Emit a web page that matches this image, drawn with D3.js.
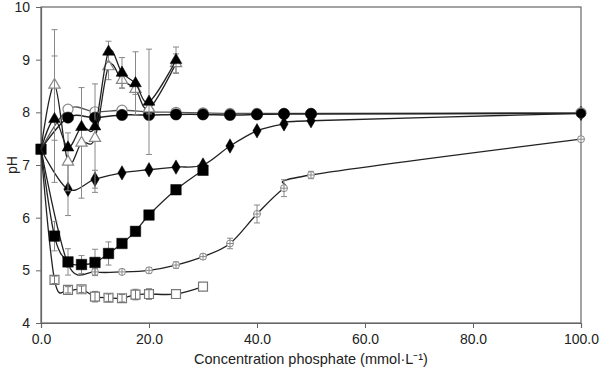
<!DOCTYPE html>
<html><head><meta charset="utf-8">
<script src="https://cdn.jsdelivr.net/npm/d3@7"></script>
<style>body{margin:0;background:#fff}svg{display:block}text{font-family:"Liberation Sans",Arial,sans-serif}</style>
</head><body>
<svg id="c" width="600" height="371"></svg>
<script>
// ---- data ----
const xTicks = [0, 20, 40, 60, 80, 100];
const yTicks = [4, 5, 6, 7, 8, 9, 10];
const xTitle = "Concentration phosphate (mmol·L\u207B\u00B9)";
const yTitle = "pH";

const triFilledX = [0, 2.5, 5, 7.5, 10, 12.5, 15, 17.5, 20, 25];
const triFilledY = [7.3, 7.87, 7.33, 7.72, 7.73, 9.15, 8.75, 8.55, 8.2, 8.99];
const triFilledE = [0, 1.2, 0, 0, 0, 0.2, 0.29, 0.6, 1.0, 0.25];

const triOpenX = [0, 2.5, 5, 7.5, 10, 12.5, 15, 17.5, 20, 25];
const triOpenY = [7.3, 8.52, 7.06, 7.42, 7.51, 8.87, 8.61, 8.44, 8.07, 8.93];
const triOpenE = [0, 1.05, 0.55, 1.05, 1.03, 0.25, 0.15, 0.1, 0.1, 0.18];

const circOpenX = [0, 5, 10, 15, 20, 25, 30, 35, 40, 45, 50, 100];
const circOpenY = [7.3, 8.06, 8.01, 8.04, 8.01, 8.0, 7.99, 7.98, 7.98, 7.98, 7.98, 7.99];

const circFilledX = [0, 5, 10, 15, 20, 25, 30, 35, 40, 45, 50, 100];
const circFilledY = [7.3, 7.9, 7.9, 7.95, 7.95, 7.96, 7.96, 7.95, 7.96, 7.97, 7.97, 7.98];

const diaX = [0, 5, 10, 15, 20, 25, 30, 35, 40, 45, 50, 100];
const diaY = [7.3, 6.54, 6.73, 6.85, 6.91, 6.96, 7.0, 7.36, 7.65, 7.78, 7.84, 7.98];
const diaE = [0, 0.5, 0.17, 0, 0, 0, 0, 0, 0, 0, 0, 0];

const sqFilledX = [0, 2.5, 5, 7.5, 10, 12.5, 15, 17.5, 20, 25, 30];
const sqFilledY = [7.3, 5.65, 5.16, 5.11, 5.15, 5.32, 5.51, 5.74, 6.05, 6.53, 6.9];
const sqFilledE = [0, 0.28, 0.25, 0.17, 0.25, 0.22, 0.05, 0.05, 0.05, 0.05, 0.05];

const crossX = [0, 5, 10, 15, 20, 25, 30, 35, 40, 45, 50, 100];
const crossY = [7.3, 5.12, 4.97, 4.97, 5.0, 5.1, 5.26, 5.51, 6.07, 6.56, 6.81, 7.49];
const crossE = [0, 0.05, 0.06, 0.05, 0.05, 0.06, 0.05, 0.1, 0.17, 0.16, 0.07, 0.04];

const sqOpenX = [0, 2.5, 5, 7.5, 10, 12.5, 15, 17.5, 20, 25, 30];
const sqOpenY = [7.3, 4.82, 4.63, 4.64, 4.5, 4.48, 4.47, 4.54, 4.55, 4.55, 4.69];
const sqOpenE = [0, 0.07, 0.06, 0.06, 0.1, 0.07, 0.07, 0.1, 0.1, 0.0, 0.0];

// ---- layout ----
const svg = d3.select("#c");
const L = 41, R = 581, T = 7, B = 323;
const x = d3.scaleLinear().domain([0, 100]).range([L, R]);
const y = d3.scaleLinear().domain([4, 10]).range([B, T]);

const axisCol = "#666";
svg.append("rect").attr("x", L).attr("y", T).attr("width", R - L).attr("height", B - T)
  .attr("fill", "none").attr("stroke", axisCol).attr("stroke-width", 1.2);

const gx = svg.append("g").attr("transform", `translate(0,${B})`)
  .call(d3.axisBottom(x).tickValues(xTicks).tickFormat(d3.format(".1f")).tickSize(5).tickPadding(6));
const gy = svg.append("g").attr("transform", `translate(${L},0)`)
  .call(d3.axisLeft(y).tickValues(yTicks).tickFormat(d3.format("d")).tickSize(5).tickPadding(6));
[gx, gy].forEach(g => {
  g.select(".domain").attr("stroke", axisCol).attr("stroke-width", 1.2);
  g.selectAll(".tick line").attr("stroke", axisCol);
  g.selectAll("text").attr("font-size", 14).attr("fill", "#222")
    .style("font-family", '"Liberation Sans", Arial, sans-serif');
});

svg.append("text").attr("x", 311).attr("y", 364).attr("text-anchor", "middle")
  .attr("font-size", 14.5).attr("fill", "#222").text(xTitle);
svg.append("text").attr("transform", "translate(17,165) rotate(-90)").attr("text-anchor", "middle")
  .attr("font-size", 14).attr("fill", "#222").text(yTitle);

const line = d3.line().x(d => x(d[0])).y(d => y(d[1])).curve(d3.curveCardinal.tension(0));
const zip = (a, b) => a.map((v, i) => [v, b[i]]);

function drawLine(xs, ys, col, w) {
  svg.append("path").datum(zip(xs, ys)).attr("d", line)
    .attr("fill", "none").attr("stroke", col).attr("stroke-width", w);
}
function drawErr(xs, ys, es, col) {
  const g = svg.append("g").attr("stroke", col).attr("stroke-width", 1);
  xs.forEach((xv, i) => {
    const e = es[i]; if (!e) return;
    const cx = x(xv), y1 = y(ys[i] + e), y2 = y(ys[i] - e);
    g.append("line").attr("x1", cx).attr("x2", cx).attr("y1", y1).attr("y2", y2);
    g.append("line").attr("x1", cx - 3).attr("x2", cx + 3).attr("y1", y1).attr("y2", y1);
    g.append("line").attr("x1", cx - 3).attr("x2", cx + 3).attr("y1", y2).attr("y2", y2);
  });
}
function drawSym(xs, ys, type, size, fill, stroke, sw) {
  svg.append("g").selectAll("path").data(zip(xs, ys)).join("path")
    .attr("transform", d => `translate(${x(d[0])},${y(d[1])})`)
    .attr("d", d3.symbol().type(type).size(size))
    .attr("fill", fill).attr("stroke", stroke).attr("stroke-width", sw);
}
function drawCross(xs, ys) {
  const g = svg.append("g");
  zip(xs, ys).forEach(d => {
    const cx = x(d[0]), cy = y(d[1]);
    g.append("circle").attr("cx", cx).attr("cy", cy).attr("r", 3.5)
      .attr("fill", "#fff").attr("stroke", "#888").attr("stroke-width", 1);
    g.append("line").attr("x1", cx - 3.5).attr("x2", cx + 3.5).attr("y1", cy).attr("y2", cy).attr("stroke", "#888");
    g.append("line").attr("x1", cx).attr("x2", cx).attr("y1", cy - 3.5).attr("y2", cy + 3.5).attr("stroke", "#888");
  });
}

const lc = "#222";
drawLine(sqOpenX, sqOpenY, lc, 1.3);
drawSym(sqOpenX.slice(1), sqOpenY.slice(1), d3.symbolSquare, 80, "#fff", "#777", 1.2);
drawErr(sqOpenX, sqOpenY, sqOpenE, "#777");

drawLine(crossX, crossY, lc, 1.3);
drawErr(crossX, crossY, crossE, "#888");
drawCross(crossX.slice(1), crossY.slice(1));

drawLine(sqFilledX, sqFilledY, lc, 1.3);
drawErr(sqFilledX, sqFilledY, sqFilledE, "#888");
drawSym(sqFilledX, sqFilledY, d3.symbolSquare, 110, "#000", "#000", 0.5);

drawLine(diaX, diaY, lc, 1.3);
drawErr(diaX, diaY, diaE, "#888");
drawSym(diaX.slice(1), diaY.slice(1), d3.symbolDiamond, 60, "#000", "#000", 0.5);

drawLine(circOpenX, circOpenY, "#555", 1.3);
drawSym(circOpenX.slice(1), circOpenY.slice(1), d3.symbolCircle, 80, "#fff", "#888", 1.2);

drawLine(circFilledX, circFilledY, lc, 1.5);
drawSym(circFilledX.slice(1, 11), circFilledY.slice(1, 11), d3.symbolCircle, 100, "#000", "#000", 0.5);
drawSym(circFilledX.slice(11), circFilledY.slice(11), d3.symbolCircle, 70, "#000", "#000", 0.5);

drawLine(triOpenX, triOpenY, lc, 1.3);
drawErr(triOpenX, triOpenY, triOpenE, "#888");
drawSym(triOpenX.slice(1), triOpenY.slice(1), d3.symbolTriangle, 55, "#fff", "#888", 1.2);

drawLine(triFilledX, triFilledY, lc, 1.3);
drawErr(triFilledX, triFilledY, triFilledE, "#888");
drawSym(triFilledX.slice(1), triFilledY.slice(1), d3.symbolTriangle, 60, "#000", "#000", 0.5);
</script>
</body></html>
